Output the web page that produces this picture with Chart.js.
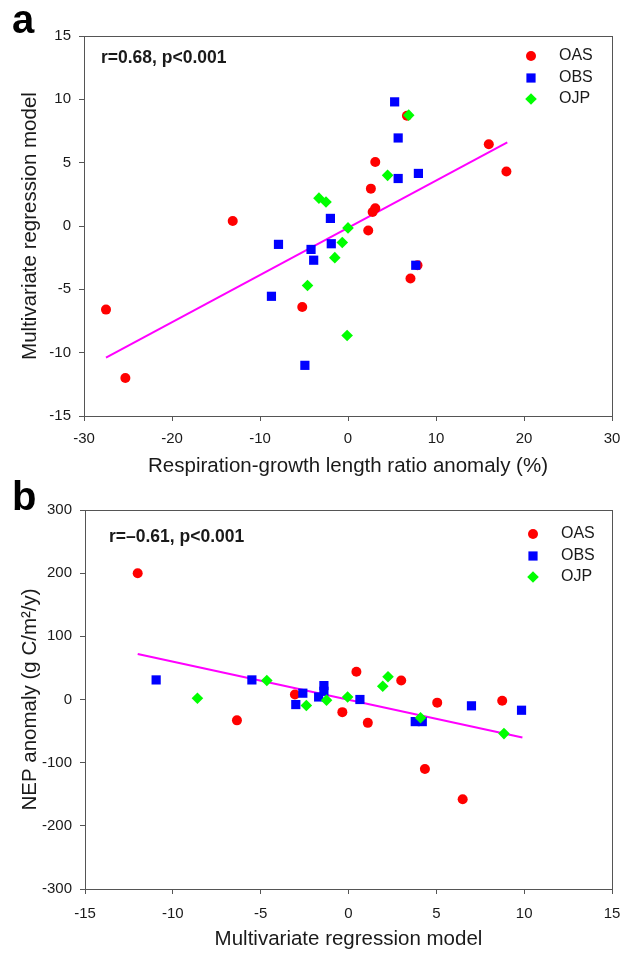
<!DOCTYPE html>
<html lang="en">
<head>
<meta charset="UTF-8" />
<title>Respiration-growth length ratio and NEP anomaly</title>
<script src="https://cdn.jsdelivr.net/npm/chart.js"></script>
<style>
  body { margin: 0; background: #fff; font-family: "Liberation Sans", Arial, sans-serif; }
  .panel { position: absolute; left: 0; width: 622px; }
  #panelA { top: 0; height: 480px; }
  #panelB { top: 480px; height: 474px; }
</style>
</head>
<body>
<div class="panel" id="panelA"><canvas id="chartA" width="622" height="480"></canvas></div>
<div class="panel" id="panelB"><canvas id="chartB" width="622" height="474"></canvas></div>

<script>
// ---- panel a: respiration-growth length ratio anomaly (%) vs multivariate model
const oasA_x = [-27.5, -25.3, -13.1, -5.2, 2.3, 2.6, 2.8, 3.1, 3.1, 6.7, 7.1, 7.9, 16.0, 18.0];
const oasA_y = [-6.6, -12.0, 0.4, -6.4, -0.35, 2.95, 1.1, 1.4, 5.05, 8.7, -4.15, -3.1, 6.45, 4.3];
const obsA_x = [-8.7, -7.9, -4.9, -4.2, -3.9, -2.0, -1.9, 5.3, 5.7, 5.7, 7.7, 8.0];
const obsA_y = [-5.55, -1.45, -11.0, -1.85, -2.7, 0.6, -1.4, 9.8, 6.95, 3.75, -3.1, 4.15];
const ojpA_x = [-4.6, -3.3, -2.5, -1.5, -0.65, 0.0, -0.1, 4.5, 6.9];
const ojpA_y = [-4.7, 2.2, 1.9, -2.5, -1.3, -0.15, -8.65, 4.0, 8.75];
const fitA_x = [-27.5, 18.1];
const fitA_y = [-10.4, 6.6];

// ---- panel b: multivariate model vs NEP anomaly
const oasB_x = [-12.0, -6.35, -3.05, -0.35, 0.45, 1.1, 3.0, 4.35, 5.05, 6.5, 8.75];
const oasB_y = [200, -33, 8, -20, 44, -37, 30, -110, -5, -158, -2];
const obsB_x = [-10.95, -5.5, -3.0, -2.6, -1.7, -1.4, -1.4, 0.65, 3.8, 4.2, 7.0, 9.85];
const obsB_y = [31, 31, -8, 10, 4, 22, 13, 0, -35, -35, -10, -17];
const ojpB_x = [-8.6, -4.65, -2.4, -1.25, -0.05, 1.95, 2.25, 4.1, 8.85];
const ojpB_y = [2, 30, -9.5, -1, 4, 21, 36, -29, -54];
const fitB_x = [-12.0, 9.9];
const fitB_y = [72, -60];

const seriesNames = ["OAS", "OBS", "OJP"];
const seriesColors = ["#ff0000", "#0000ff", "#00ff00"];
const seriesStyles = ["circle", "rect", "rectRot"];
const seriesRadius = [5, 6.5, 5.8];

const textColor = "#1a1a1a";
const axisColor = "#555";
const fontFamily = "'Liberation Sans', Arial, sans-serif";

function pts(xs, ys) {
  return xs.map((x, i) => ({ x: x, y: ys[i] }));
}

function drawMarker(ctx, style, x, y, r, color) {
  ctx.fillStyle = color;
  ctx.beginPath();
  if (style === "circle") {
    ctx.arc(x, y, r, 0, Math.PI * 2);
  } else if (style === "rect") {
    const s = r * Math.SQRT1_2;
    ctx.rect(x - s, y - s, 2 * s, 2 * s);
  } else {
    ctx.moveTo(x, y - r);
    ctx.lineTo(x + r, y);
    ctx.lineTo(x, y + r);
    ctx.lineTo(x - r, y);
    ctx.closePath();
  }
  ctx.fill();
}

// frame, panel letter, r/p note and the legend
const decorPlugin = {
  id: "decor",
  afterDraw(chart, args, opts) {
    const { ctx, chartArea: a } = chart;
    ctx.save();
    ctx.strokeStyle = axisColor;
    ctx.lineWidth = 1;
    ctx.strokeRect(a.left + 0.5, a.top + 0.5, a.right - a.left, a.bottom - a.top);

    ctx.fillStyle = "#000";
    ctx.font = "bold 40px " + fontFamily;
    ctx.textBaseline = "alphabetic";
    ctx.textAlign = "left";
    ctx.fillText(opts.letter, 12, opts.letterY);

    ctx.fillStyle = textColor;
    ctx.font = "bold 17.5px " + fontFamily;
    ctx.textBaseline = "middle";
    ctx.fillText(opts.note, a.left + opts.noteDx, a.top + opts.noteDy);

    ctx.font = "16px " + fontFamily;
    opts.legendRows.forEach((dy, i) => {
      const y = a.top + dy;
      drawMarker(ctx, seriesStyles[i], opts.legendX, y, seriesRadius[i], seriesColors[i]);
      ctx.fillStyle = textColor;
      ctx.fillText(seriesNames[i], opts.legendX + 28, y);
    });
    ctx.restore();
  }
};

function makeChart(id, data, cfg) {
  const datasets = data.series.map((s, i) => ({
    type: "scatter",
    label: seriesNames[i],
    data: s,
    pointStyle: seriesStyles[i],
    pointRadius: seriesRadius[i],
    pointHoverRadius: seriesRadius[i],
    backgroundColor: seriesColors[i],
    borderColor: seriesColors[i],
    borderWidth: 0,
    order: 3 - i
  }));
  datasets.push({
    type: "line",
    label: "fit",
    data: data.fit,
    borderColor: "#ff00ff",
    borderWidth: 2,
    pointRadius: 0,
    fill: false,
    order: 4
  });

  const tickFont = { family: fontFamily, size: 15 };
  const titleFont = { family: fontFamily, size: 20.5 };

  return new Chart(document.getElementById(id), {
    type: "scatter",
    data: { datasets: datasets },
    plugins: [decorPlugin],
    options: {
      responsive: false,
      animation: false,
      events: [],
      layout: { padding: { top: cfg.padTop, right: 10, left: 0, bottom: 0 } },
      plugins: {
        legend: { display: false },
        tooltip: { enabled: false },
        decor: cfg.decor
      },
      scales: {
        x: {
          type: "linear",
          min: cfg.xMin, max: cfg.xMax,
          ticks: { stepSize: cfg.xStep, color: textColor, font: tickFont, padding: cfg.xTickPad },
          grid: { drawOnChartArea: false, drawTicks: true, tickLength: 5, color: axisColor },
          border: { color: axisColor },
          title: { display: true, text: cfg.xTitle, color: textColor, font: titleFont,
                   padding: { top: 0, bottom: cfg.xTitlePad } },
          afterFit: (s) => { s.height = cfg.xHeight; s.paddingLeft = 0; s.paddingRight = 0; }
        },
        y: {
          type: "linear",
          min: cfg.yMin, max: cfg.yMax,
          ticks: { stepSize: cfg.yStep, color: textColor, font: tickFont, padding: 8 },
          grid: { drawOnChartArea: false, drawTicks: true, tickLength: 5, color: axisColor },
          border: { color: axisColor },
          title: { display: true, text: cfg.yTitle, color: textColor, font: titleFont,
                   padding: { top: 18, bottom: 0 } },
          afterFit: (s) => { s.width = cfg.yWidth; s.paddingTop = 0; s.paddingBottom = 0; }
        }
      }
    }
  });
}

makeChart("chartA", {
  series: [pts(oasA_x, oasA_y), pts(obsA_x, obsA_y), pts(ojpA_x, ojpA_y)],
  fit: pts(fitA_x, fitA_y)
}, {
  padTop: 36, xHeight: 64, yWidth: 84, xTitlePad: 1.7, xTickPad: 8.5,
  xMin: -30, xMax: 30, xStep: 10, yMin: -15, yMax: 15, yStep: 5,
  xTitle: "Respiration-growth length ratio anomaly (%)",
  yTitle: "Multivariate regression model",
  decor: { letter: "a", letterY: 33, note: "r=0.68, p<0.001", noteDx: 17, noteDy: 22,
           legendX: 531, legendRows: [20, 42, 63] }
});

makeChart("chartB", {
  series: [pts(oasB_x, oasB_y), pts(obsB_x, obsB_y), pts(ojpB_x, ojpB_y)],
  fit: pts(fitB_x, fitB_y)
}, {
  padTop: 30, xHeight: 65, yWidth: 85, xTitlePad: 2, xTickPad: 10.5,
  xMin: -15, xMax: 15, xStep: 5, yMin: -300, yMax: 300, yStep: 100,
  xTitle: "Multivariate regression model",
  yTitle: "NEP anomaly (g C/m\u00B2/y)",
  decor: { letter: "b", letterY: 30, note: "r=\u20130.61, p<0.001", noteDx: 24, noteDy: 27,
           legendX: 533, legendRows: [24, 46, 67] }
});
</script>
</body>
</html>
